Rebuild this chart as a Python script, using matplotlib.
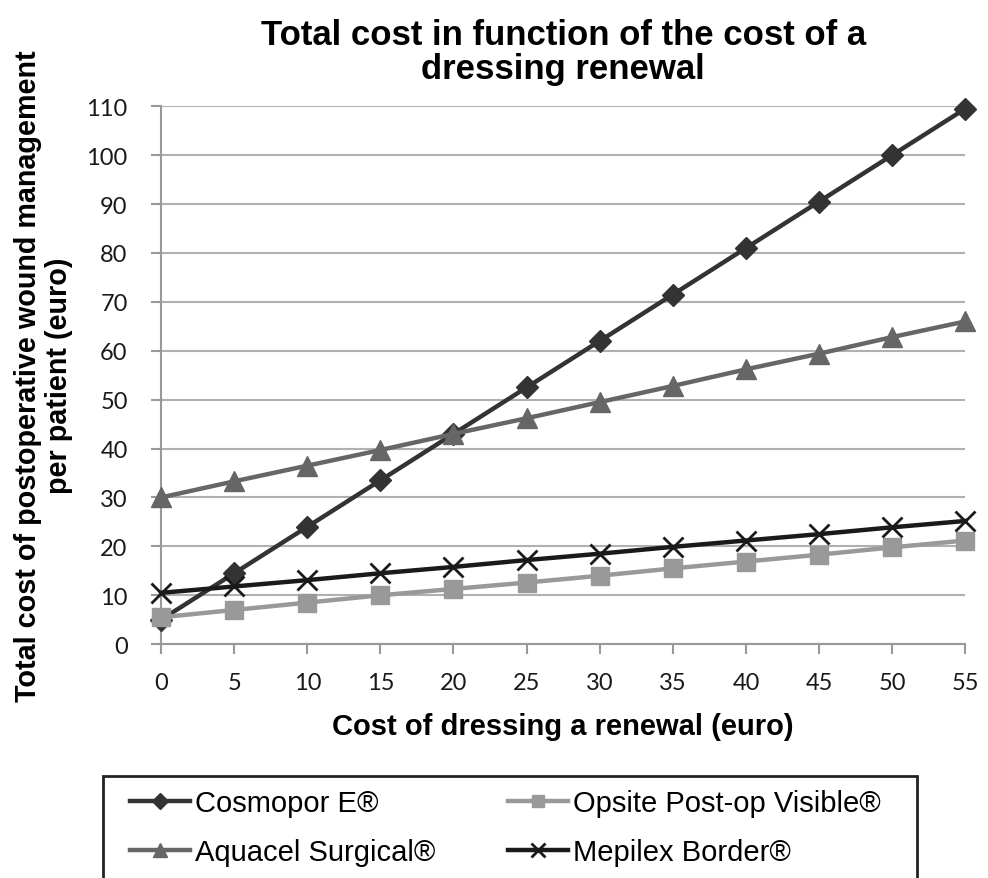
import matplotlib.pyplot as plt
from matplotlib.patches import Rectangle

# cost of one dressing renewal (euro)
renewal_cost = [0, 5, 10, 15, 20, 25, 30, 35, 40, 45, 50, 55]

# total cost per patient (euro)
cosmopor = [5.0, 14.5, 24.0, 33.5, 43.0, 52.5, 62.0, 71.5, 81.0, 90.5, 100.0, 109.5]
opsite = [5.5, 7.0, 8.5, 10.0, 11.3, 12.6, 14.0, 15.5, 16.9, 18.3, 19.8, 21.2]
aquacel = [30.0, 33.3, 36.5, 39.7, 43.0, 46.2, 49.5, 52.8, 56.2, 59.4, 62.8, 66.0]
mepilex = [10.5, 11.8, 13.1, 14.5, 15.8, 17.2, 18.5, 19.9, 21.2, 22.5, 23.9, 25.2]

series_labels = ['Cosmopor E®', 'Opsite Post-op Visible®', 'Aquacel Surgical®', 'Mepilex Border®']
y_ticks = list(range(0, 111, 10))

plt.rcParams['font.family'] = ['Liberation Sans', 'DejaVu Sans']

fig = plt.figure(figsize=(9.88, 8.79), dpi=100)
ax = fig.add_axes([0.163, 0.266, 0.814, 0.612])

l_cos, = ax.plot(renewal_cost, cosmopor, color='#333333', lw=3.2, marker='D', ms=11,
                 label=series_labels[0], zorder=3)
l_ops, = ax.plot(renewal_cost, opsite, color='#999999', lw=3.2, marker='s', ms=13,
                 label=series_labels[1], zorder=4)
l_aqu, = ax.plot(renewal_cost, aquacel, color='#666666', lw=3.2, marker='^', ms=14,
                 label=series_labels[2], zorder=3)
l_mep, = ax.plot(renewal_cost, mepilex, color='#1a1a1a', lw=3.2, marker='x', ms=14, mew=2,
                 label=series_labels[3], zorder=5)

ax.set_xlim(0, 55)
ax.set_ylim(0, 110)
ax.set_xticks(renewal_cost)
ax.set_yticks(y_ticks)
ax.tick_params(axis='both', labelsize=17, colors='#999999', labelcolor='#1a1a1a',
               length=7, width=1.5)
ax.tick_params(axis='x', pad=13)
ax.tick_params(axis='y', pad=17)
for lbl in ax.get_xticklabels() + ax.get_yticklabels():
    lbl.set_fontfamily(['Lato', 'DejaVu Sans'])
ax.grid(axis='y', color='#b0b0b0', lw=1.5)
ax.set_axisbelow(True)
for side in ['top', 'right']:
    ax.spines[side].set_visible(False)
for side in ['left', 'bottom']:
    ax.spines[side].set_color('#999999')
    ax.spines[side].set_linewidth(1.5)
for ln in [l_cos, l_ops, l_aqu, l_mep]:
    ln.set_clip_on(False)

ax.set_title('Total cost in function of the cost of a\ndressing renewal', fontsize=25,
             fontweight='bold', pad=20, linespacing=1.05)
ax.set_xlabel('Cost of dressing a renewal (euro)', fontsize=21, fontweight='bold', labelpad=14)
ax.set_ylabel('Total cost of postoperative wound management\nper patient (euro)',
              fontsize=20.7, fontweight='bold', labelpad=10, linespacing=1.1)

# legend box, bottom edge runs off the image like the reference
fig.patches.append(Rectangle((103 / 988, -0.05), 814 / 988, 0.05 + 1 - 777 / 879,
                             transform=fig.transFigure, fill=False, edgecolor='#222222', lw=2))
fig.legend(handles=[l_cos, l_aqu, l_ops, l_mep], ncol=2, frameon=False,
           loc='upper left', bbox_to_anchor=(130 / 988, 1 - 790 / 879), fontsize=21,
           markerscale=0.7, handlelength=2.05, handletextpad=0.17, columnspacing=2.5,
           labelspacing=0.72, borderpad=0, borderaxespad=0)

plt.savefig('out.png', dpi=100)
plt.close()
